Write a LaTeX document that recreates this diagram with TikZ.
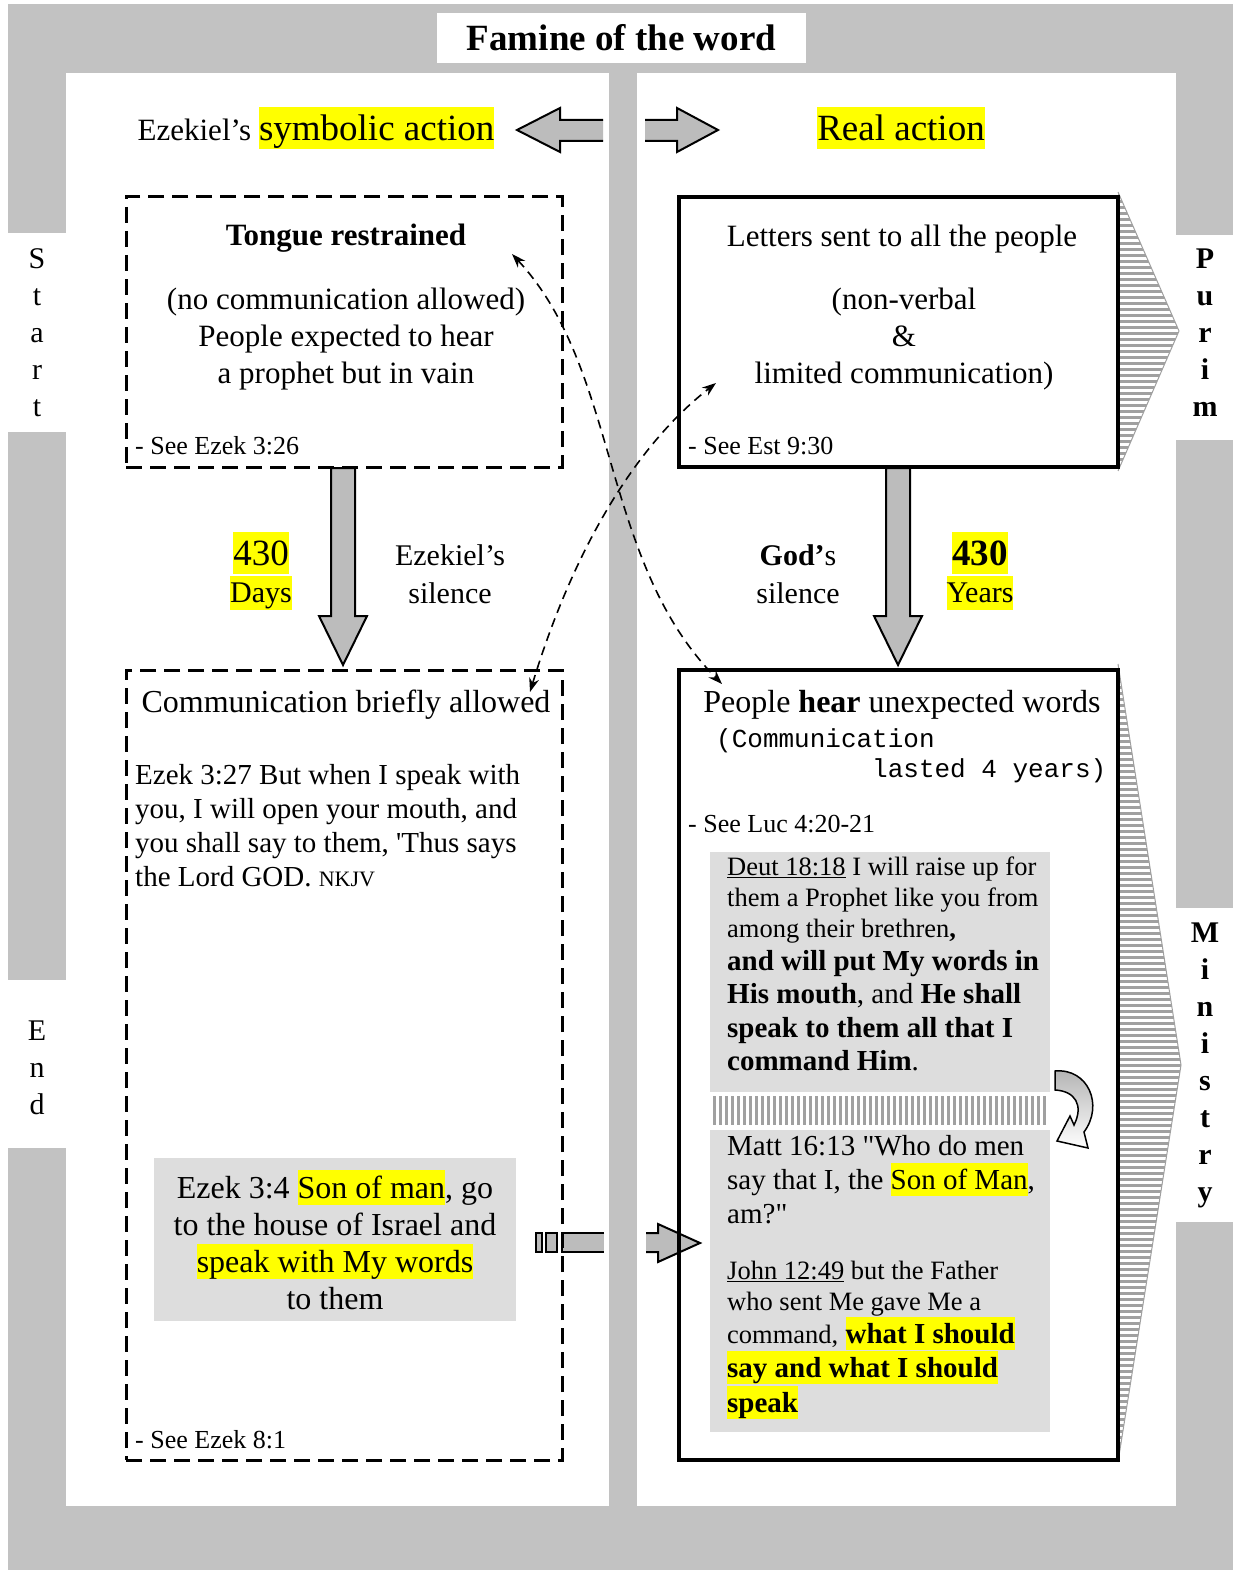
\documentclass[tikz,border=0pt]{standalone}
\usepackage{fontspec}
\setmainfont{Liberation Serif}
\setmonofont{Liberation Mono}
\usetikzlibrary{arrows.meta,patterns.meta}

\definecolor{hlyellow}{RGB}{255,255,0}
\definecolor{bggray}{RGB}{194,194,194}
\definecolor{boxgray}{RGB}{221,221,221}
\definecolor{arrowgray}{RGB}{188,188,188}
\definecolor{stripegray}{RGB}{160,160,160}

\newcommand{\fs}[2]{\fontsize{#1}{#2}\selectfont}
\newcommand{\hl}[1]{{\setlength{\fboxsep}{0pt}\colorbox{hlyellow}{\rule[-0.23em]{0pt}{1.12em}#1}}}

\tikzset{
  dashbox/.style={draw, line width=3pt, dash pattern=on 16pt off 8pt},
  solidbox/.style={draw, line width=3.5pt},
  blockarrow/.style={draw, line width=2pt, line join=miter},
  linkarrow/.style={line width=1.6pt, dash pattern=on 9pt off 6pt,
    {Stealth[length=14pt,width=10pt]}-{Stealth[length=14pt,width=10pt]}},
  sidelabel/.style={align=center, font=\fs{30}{37}},
  stripes/.style={pattern={Lines[angle=0,distance=6pt,line width=3pt]}, pattern color=stripegray},
}

\begin{document}
\begin{tikzpicture}[x=1pt, y=-1pt, every node/.style={inner sep=0pt}]
  \useasboundingbox (0,0) rectangle (1233,1570);
  % page and panels
  \fill[white] (0,0) rectangle (1233,1570);
  \fill[bggray] (8,4) rectangle (1233,1570);
  \fill[white] (66,73) rectangle (609,1506);
  \fill[white] (637,73) rectangle (1176,1506);
  \fill[white] (8,233) rectangle (66,432);
  \fill[white] (8,980) rectangle (66,1148);
  \fill[white] (1176,235) rectangle (1233,440);
  \fill[white] (1176,908) rectangle (1233,1222);

  \node[fill=white, minimum width=369pt, minimum height=50pt, font=\bfseries\fs{37}{40}] (title) at (621.5,38) {Famine of the word};

  % side words
  \node[sidelabel] (start) at (37,333) {S\\t\\a\\r\\t};
  \node[sidelabel] (endword) at (37,1068) {E\\n\\d};
  \node[sidelabel, font=\bfseries\fs{30}{37}] (purim) at (1205,333) {P\\u\\r\\i\\m};
  \node[sidelabel, font=\bfseries\fs{30}{37}] (ministry) at (1205,1065) {M\\i\\n\\i\\s\\t\\r\\y};

  % header
  \node[font=\fs{31}{36}] (symbolic) at (316,128) {Ezekiel's {\fs{37}{40}\hl{symbolic action}}};
  \node[font=\fs{37}{40}] (real) at (901,128) {\hl{Real action}};
  \fill[arrowgray] (603,120) -- (560,120) -- (560,108) -- (517,130) -- (560,152) -- (560,141) -- (603,141) -- cycle;
  \draw[blockarrow] (603,120) -- (560,120) -- (560,108) -- (517,130) -- (560,152) -- (560,141) -- (603,141);
  \fill[arrowgray] (645,120) -- (677,120) -- (677,108) -- (718,130) -- (677,152) -- (677,141) -- (645,141) -- cycle;
  \draw[blockarrow] (645,120) -- (677,120) -- (677,108) -- (718,130) -- (677,152) -- (677,141) -- (645,141);

  % striped chevrons
  \fill[stripes] (1118,192) -- (1179,331) -- (1118,471) -- cycle;
  \draw[stripegray, line width=1pt] (1118,192) -- (1179,331) -- (1118,471);
  \fill[stripes] (1118,664) -- (1181,1065) -- (1118,1462) -- cycle;
  \draw[stripegray, line width=1pt] (1118,664) -- (1181,1065) -- (1118,1462);

  % broken arrow between the lower boxes
  \draw[blockarrow, fill=arrowgray] (536,1233) rectangle (542,1252);
  \draw[blockarrow, fill=arrowgray] (546,1233) rectangle (557,1252);
  \fill[arrowgray] (562,1233) rectangle (604,1252);
  \draw[blockarrow] (604,1233) -- (562,1233) -- (562,1252) -- (604,1252);
  \fill[arrowgray] (646,1233) -- (658,1233) -- (658,1224) -- (700,1243) -- (658,1262) -- (658,1252) -- (646,1252) -- cycle;
  \draw[blockarrow] (646,1233) -- (658,1233) -- (658,1224) -- (700,1243) -- (658,1262) -- (658,1252) -- (646,1252);

  % boxes
  \node[dashbox, minimum width=436pt, minimum height=270pt] (tongue) at (344,332) {};
  \node[solidbox, minimum width=439pt, minimum height=270pt] (letters) at (898.5,332) {};
  \node[dashbox, minimum width=436pt, minimum height=790pt] (allowed) at (344,1065) {};
  \node[solidbox, minimum width=439pt, minimum height=790pt] (hear) at (898.5,1065) {};

  % top left
  \node[font=\bfseries\fs{31}{37}] (tonguehead) at (346,238) {Tongue restrained};
  \node[font=\fs{31}{37}, align=center] (tonguetext) at (346,339) {(no communication allowed)\\People expected to hear\\a prophet but in vain};
  \node[anchor=base west, font=\fs{26}{30}] (tongueref) at (135,454) {- See Ezek 3:26};

  % top right
  \node[font=\fs{31}{37}] (lettershead) at (902,239) {Letters sent to all the people};
  \node[font=\fs{31}{37}, align=center] (letterstext) at (904,339) {(non-verbal\\\&\\limited communication)};
  \node[anchor=base west, font=\fs{26}{30}] (lettersref) at (688,454) {- See Est 9:30};

  % silences
  \draw[blockarrow, fill=arrowgray] (331,468) -- (355,468) -- (355,616) -- (367,616) -- (343,665) -- (319,616) -- (331,616) -- cycle;
  \draw[blockarrow, fill=arrowgray] (886,468) -- (910,468) -- (910,616) -- (922,616) -- (898,665) -- (874,616) -- (886,616) -- cycle;
  \node[font=\fs{37}{40}] (days) at (261,553) {\hl{430}};
  \node[font=\fs{30}{36}] (dayslabel) at (261,593) {\hl{Days}};
  \node[font=\fs{30}{38}, align=center] (ezsilence) at (450,574) {Ezekiel's\\silence};
  \node[font=\fs{30}{38}, align=center] (godsilence) at (798,574) {\textbf{God'}s\\silence};
  \node[font=\bfseries\fs{37}{40}] (years) at (980,553) {\hl{430}};
  \node[font=\fs{30}{36}] (yearslabel) at (980,593) {\hl{Years}};

  % bottom left
  \node[font=\fs{32}{37}] (allowedhead) at (346,705) {Communication briefly allowed};
  \node[anchor=base west, align=left, font=\fs{29}{34}] (ezek327) at (135,886) {Ezek 3:27 But when I speak with\\you, I will open your mouth, and\\you shall say to them, \textquotesingle Thus says\\the Lord GOD. {\fs{22}{34}NKJV}};
  \node[fill=boxgray, minimum width=362pt, minimum height=163pt, align=center, font=\fs{32}{37}] (ezek34) at (335,1239.5) {Ezek 3:4 \hl{Son of man}, go\\to the house of Israel and\\\hl{speak with My words}\\to them};
  \node[anchor=base west, font=\fs{26}{30}] (allowedref) at (135,1448) {- See Ezek 8:1};

  % bottom right
  \node[font=\fs{32}{37}] (hearhead) at (902,705) {People \textbf{hear} unexpected words};
  \node[anchor=base west, align=left, font=\ttfamily\fs{26}{30}] (hearnote) at (716,777) {(Communication\\\hspace*{156pt}lasted 4 years)};
  \node[anchor=base west, font=\fs{26}{30}] (hearref) at (688,832) {- See Luc 4:20-21};

  \node[fill=boxgray, minimum width=340pt, minimum height=240pt] (deutbox) at (880,972) {};
  \node[anchor=base west, align=left, font=\fs{26.5}{31}] (deut) at (727,1070) {\underline{Deut 18:18} I will raise up for\\them a Prophet like you from\\among their brethren\textbf{,}\\[2pt]
    {\bfseries\fs{29}{33}and will put My words in}\\[2pt]
    {\fs{29}{33}\textbf{His mouth}, and \textbf{He shall}}\\[3pt]
    {\bfseries\fs{29}{33}speak to them all that I}\\[2pt]
    {\fs{29}{33}\textbf{command Him}.}};
  \fill[pattern={Lines[angle=90,distance=6pt,line width=3pt]}, pattern color=stripegray] (710,1096) rectangle (1046,1124);
  \node[fill=boxgray, minimum width=340pt, minimum height=302pt] (mattbox) at (880,1281) {};
  \node[anchor=base west, align=left, font=\fs{29}{34}] (matt) at (727,1412) {Matt 16:13 \textquotedbl Who do men\\say that I, the \hl{Son of Man},\\am?\textquotedbl\\[22pt]
    {\fs{26.5}{31}\underline{John 12:49} but the Father}\\[-3pt]
    {\fs{26.5}{31}who sent Me gave Me a}\\[-1pt]
    {\fs{26.5}{31}command,} {\bfseries\hl{what I should}}\\
    {\bfseries\hl{say and what I should}}\\[1pt]
    {\bfseries\hl{speak}}};

  % turn arrow
  \draw[line width=1.5pt, top color=gray!60, bottom color=white] (1055,1071) .. controls (1088,1068) and (1104,1105) .. (1084,1132) -- (1088,1148) -- (1057,1141) -- (1070,1116) -- (1074,1125) .. controls (1084,1105) and (1075,1091) .. (1055,1090) -- cycle;

  % links
  \coordinate (tongueend) at (512,254);
  \coordinate (hearend) at (722,684);
  \coordinate (allowedend) at (530,692);
  \coordinate (lettersend) at (716,383);
  \draw[linkarrow] (tongueend) .. controls (620,370) and (600,560) .. (hearend);
  \draw[linkarrow] (allowedend) .. controls (570,560) and (630,450) .. (lettersend);
\end{tikzpicture}
\end{document}
